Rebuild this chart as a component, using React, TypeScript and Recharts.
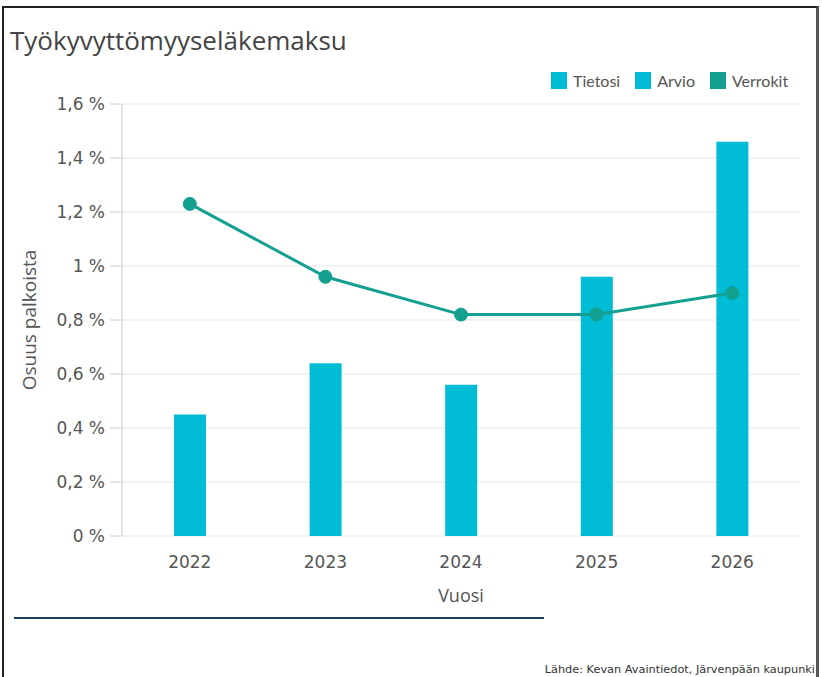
import React from "react"
import {
  ComposedChart,
  Bar,
  Line,
  XAxis,
  YAxis,
  CartesianGrid,
  Label,
} from "recharts"

const years = ["2022", "2023", "2024", "2025", "2026"]
const tietosi = [0.45, 0.64, 0.56, null, null]
const arvio = [null, null, null, 0.96, 1.46]
const verrokit = [1.23, 0.96, 0.82, 0.82, 0.9]
const yTicks = [0, 0.2, 0.4, 0.6, 0.8, 1, 1.2, 1.4, 1.6]

const legendItems = [
  { name: "Tietosi", color: "#00bcd4" },
  { name: "Arvio", color: "#00bcd4" },
  { name: "Verrokit", color: "#14a090" },
]

const data = years.map((year, i) => ({
  year,
  tietosi: tietosi[i],
  arvio: arvio[i],
  verrokit: verrokit[i],
}))

function formatPercent(v: number): string {
  return `${String(v).replace(".", ",")} %`
}

const tickStyle = { fontSize: 17, fill: "#555", fontFamily: "DejaVu Sans" }

export default function App() {
  return (
    <div
      style={{
        position: "absolute",
        left: 0,
        top: 0,
        width: 822,
        height: 677,
        background: "#fff",
        overflow: "hidden",
      }}
    >
      <div
        style={{
          position: "absolute",
          left: 10,
          top: 23,
          fontFamily: "Open Sans",
          fontSize: 26,
          color: "#444",
          lineHeight: 1.36,
          whiteSpace: "nowrap",
        }}
      >
        Työkyvyttömyyseläkemaksu
      </div>

      <div
        style={{
          position: "absolute",
          left: 551,
          top: 71,
          display: "flex",
          alignItems: "center",
          gap: 15,
          fontFamily: "Lato",
          fontSize: 16,
          color: "#555",
        }}
      >
        {legendItems.map((item) => (
          <div key={item.name} style={{ display: "flex", alignItems: "center", gap: 6 }}>
            <span style={{ width: 16, height: 17, background: item.color, display: "inline-block" }} />
            <span>{item.name}</span>
          </div>
        ))}
      </div>

      <div style={{ position: "absolute", left: 0, top: 0 }}>
        <ComposedChart
          width={822}
          height={677}
          data={data}
          margin={{ top: 104, right: 22, left: 0, bottom: 71 }}
        >
          <CartesianGrid vertical={false} stroke="#e6e6e6" />
          <XAxis
            dataKey="year"
            height={70}
            tickLine={false}
            axisLine={false}
            tickMargin={14}
            tick={tickStyle}
          >
            <Label
              value="Vuosi"
              position="insideBottom"
              offset={4}
              style={{ fontSize: 18, fill: "#555", fontFamily: "Open Sans" }}
            />
          </XAxis>
          <YAxis
            width={122}
            domain={[0, 1.6]}
            ticks={yTicks}
            tickFormatter={formatPercent}
            tickSize={12}
            tickMargin={5}
            stroke="#ccc"
            tick={tickStyle}
          >
            <Label
              value="Osuus palkoista"
              angle={-90}
              position="insideLeft"
              offset={29}
              style={{ fontSize: 19, fill: "#555", fontFamily: "Open Sans", textAnchor: "middle" }}
            />
          </YAxis>
          <Bar dataKey="tietosi" stackId="a" fill="#00bcd4" barSize={32} isAnimationActive={false} />
          <Bar dataKey="arvio" stackId="a" fill="#00bcd4" barSize={32} isAnimationActive={false} />
          <Line
            dataKey="verrokit"
            type="linear"
            stroke="#14a090"
            strokeWidth={3}
            dot={{ r: 6.5, fill: "#14a090", stroke: "#14a090", strokeWidth: 1 }}
            isAnimationActive={false}
          />
        </ComposedChart>
      </div>

      <div
        style={{
          position: "absolute",
          left: 14,
          top: 617,
          width: 530,
          height: 2,
          background: "#1f3f5a",
        }}
      />

      <div
        style={{
          position: "absolute",
          right: 7,
          top: 663,
          fontFamily: "DejaVu Sans",
          fontSize: 11.3,
          color: "#333",
          whiteSpace: "nowrap",
        }}
      >
        Lähde: Kevan Avaintiedot, Järvenpään kaupunki
      </div>

      <div
        style={{
          position: "absolute",
          left: 2,
          top: 6,
          width: 812,
          height: 700,
          borderLeft: "2px solid #222",
          borderTop: "2px solid #222",
          borderRight: "3px solid #555",
          pointerEvents: "none",
        }}
      />
    </div>
  )
}
